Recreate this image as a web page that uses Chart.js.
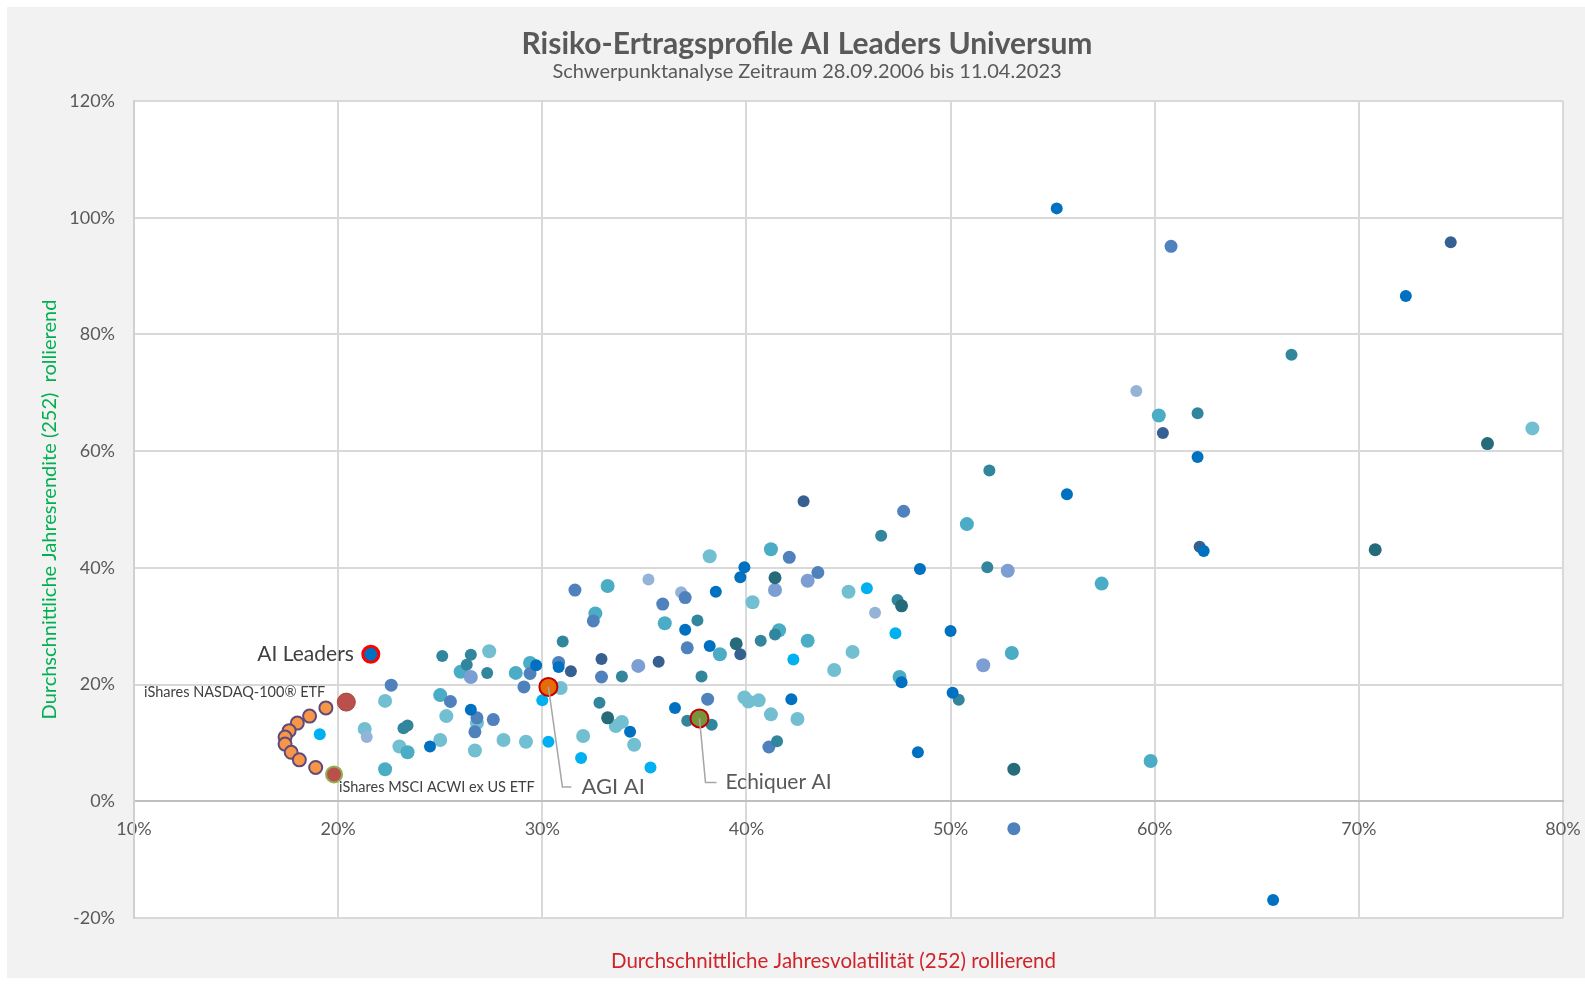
<!DOCTYPE html>
<html lang="de">
<head>
  <meta charset="UTF-8">
  <title>Risiko-Ertragsprofile AI Leaders Universum</title>
  <script src="https://cdn.jsdelivr.net/npm/chart.js"></script>
  <style>
    html, body {
      margin: 0;
      padding: 0;
      background: #fff;
    }

    .chart-box {
      position: absolute;
      left: 7px;
      top: 7px;
      width: 1578px;
      height: 971px;
      background: #f2f2f2;
    }
  </style>
</head>
<body>
  <div class="chart-box">
    <canvas id="scatter"></canvas>
  </div>
  <script>
    // Werte in Prozent: [Volatilität, Rendite]
    const blau = [[55.2, 101.6], [72.3, 86.6], [62.1, 59.0], [62.4, 42.9], [55.7, 52.6], [65.8, -16.9],
      [48.5, 39.8], [50.0, 29.2], [47.6, 20.4], [50.1, 18.6], [48.4, 8.4], [39.9, 40.1], [39.7, 38.4],
      [38.5, 35.9], [37.0, 29.4], [38.2, 26.6], [30.8, 23.0], [42.2, 17.5], [36.5, 16.0], [34.3, 11.9],
      [29.7, 23.3], [26.5, 15.7], [24.5, 9.4]];
    const stahlblau = [[60.8, 95.1], [53.1, -4.7], [47.7, 49.7], [42.1, 41.8], [43.5, 39.2], [31.6, 36.2],
      [37.0, 34.9], [35.9, 33.8], [32.5, 30.9], [37.1, 26.3], [30.8, 23.8], [32.9, 21.3], [38.1, 17.5],
      [41.1, 9.3], [29.4, 21.9], [29.1, 19.6], [22.6, 19.9], [25.5, 17.1], [26.8, 14.3], [27.6, 14.0],
      [26.7, 11.9]];
    const stahlblauHell = [[52.8, 39.5], [51.6, 23.3], [41.4, 36.2], [43.0, 37.8], [34.7, 23.2], [26.5, 21.3]];
    const hellblau = [[59.1, 70.3], [46.3, 32.3], [35.2, 38.0], [36.8, 35.8], [21.4, 11.0]];
    const marine = [[74.5, 95.8], [60.4, 63.1], [62.2, 43.6], [42.8, 51.4], [39.7, 25.2], [32.9, 24.4],
      [35.7, 23.9], [31.4, 22.3]];
    const petrol = [[66.7, 76.5], [62.1, 66.5], [51.9, 56.7], [46.6, 45.5], [51.8, 40.1], [47.4, 34.5],
      [50.4, 17.4], [37.6, 31.0], [41.4, 28.6], [40.7, 27.5], [31.0, 27.4], [33.9, 21.4], [37.8, 21.4],
      [32.8, 16.9], [37.1, 13.8], [38.3, 13.1], [41.5, 10.3], [25.1, 24.9], [26.5, 25.1], [26.3, 23.4],
      [27.3, 22.0], [23.4, 13.0], [23.2, 12.5]];
    const petrolDunkel = [[76.3, 61.3], [70.8, 43.1], [53.1, 5.5], [47.6, 33.5], [41.4, 38.3], [39.5, 27.0],
      [33.2, 14.3]];
    const tuerkis = [[60.2, 66.1], [57.4, 37.3], [59.8, 6.9], [50.8, 47.5], [53.0, 25.4], [47.5, 21.3],
      [41.2, 43.2], [33.2, 36.9], [32.6, 32.2], [36.0, 30.5], [41.6, 29.3], [43.0, 27.5], [38.7, 25.2],
      [26.0, 22.2], [28.7, 22.0], [29.4, 23.7], [25.0, 18.2], [23.4, 8.4], [22.3, 5.5]];
    const tuerkisHell = [[78.5, 63.9], [45.0, 35.9], [45.2, 25.6], [44.3, 22.5], [38.2, 42.0], [40.3, 34.1],
      [39.9, 17.8], [40.1, 17.1], [40.6, 17.3], [41.2, 14.9], [42.5, 14.1], [32.0, 11.2], [34.5, 9.7],
      [33.6, 12.9], [33.9, 13.6], [30.9, 19.4], [27.4, 25.7], [22.3, 17.2], [25.3, 14.6], [26.8, 13.4],
      [21.3, 12.4], [23.0, 9.4], [25.0, 10.5], [26.7, 8.7], [28.1, 10.5], [29.2, 10.2]];
    const himmelblau = [[45.9, 36.5], [47.3, 28.8], [42.3, 24.3], [31.9, 7.4], [35.3, 5.8], [30.0, 17.3],
      [19.1, 11.5], [30.3, 10.2]];

    // hervorgehobene Fonds / ETFs
    const aiLeaders = [21.6, 25.2];
    const agiAi = [30.3, 19.6];
    const echiquerAi = [37.7, 14.2];
    const nasdaqEtf = [20.4, 17.0];
    const msciAcwiEtf = [19.8, 4.6];
    const mischung = [[19.4, 16.0], [18.6, 14.6], [18.0, 13.4], [17.6, 12.1], [17.4, 11.0], [17.4, 9.8],
      [17.7, 8.4], [18.1, 7.1], [18.9, 5.8]];

    const xTicks = [10, 20, 30, 40, 50, 60, 70, 80];
    const yTicks = [-20, 0, 20, 40, 60, 80, 100, 120];

    const schrift = 'Lato, "DejaVu Sans", sans-serif';

    function punkte(arr) {
      return arr.map(([x, y]) => ({ x, y }));
    }

    function serie(label, arr, farbe, radius, extra) {
      return Object.assign({
        label: label,
        data: punkte(arr),
        backgroundColor: farbe,
        borderWidth: 0,
        pointRadius: radius,
        pointHoverRadius: radius
      }, extra || {});
    }

    // weißer Plotbereich
    const plotFlaeche = {
      id: 'plotFlaeche',
      beforeDraw(chart) {
        const { ctx, chartArea: a } = chart;
        ctx.save();
        ctx.fillStyle = '#ffffff';
        ctx.fillRect(a.left, a.top, a.right - a.left, a.bottom - a.top);
        ctx.restore();
      }
    };

    // Beschriftungen mit Führungslinien + Achsentitel
    const beschriftung = {
      id: 'beschriftung',
      afterDatasetsDraw(chart) {
        const { ctx, chartArea, scales: { x, y } } = chart;
        const px = p => [x.getPixelForValue(p[0]), y.getPixelForValue(p[1])];
        ctx.save();

        ctx.strokeStyle = '#a6a6a6';
        ctx.lineWidth = 1.5;
        let [ax, ay] = px(agiAi);
        ctx.beginPath();
        ctx.moveTo(ax, ay);
        ctx.lineTo(ax + 14, ay + 100);
        ctx.lineTo(ax + 23, ay + 100);
        ctx.stroke();
        let [ex, ey] = px(echiquerAi);
        ctx.beginPath();
        ctx.moveTo(ex, ey);
        ctx.lineTo(ex + 6, ey + 64);
        ctx.lineTo(ex + 17, ey + 64);
        ctx.stroke();

        ctx.textBaseline = 'middle';
        ctx.fillStyle = '#595959';
        ctx.font = '22px ' + schrift;
        ctx.textAlign = 'left';
        ctx.fillText('AGI AI', ax + 33, ay + 100);
        ctx.font = '21px ' + schrift;
        ctx.fillText('Echiquer AI', ex + 26, ey + 64);

        ctx.fillStyle = '#404040';
        let [lx, ly] = px(aiLeaders);
        ctx.textAlign = 'right';
        ctx.fillText('AI Leaders', lx - 17, ly);

        ctx.font = '14.5px ' + schrift;
        let [nx, ny] = px(nasdaqEtf);
        ctx.fillText('iShares NASDAQ-100® ETF', nx - 21, ny - 10);
        let [mx, my] = px(msciAcwiEtf);
        ctx.textAlign = 'left';
        ctx.fillText('iShares MSCI ACWI ex US ETF', mx + 5, my + 13);

        // x-Achsentitel
        ctx.fillStyle = '#d0232a';
        ctx.font = '20.5px ' + schrift;
        ctx.textAlign = 'center';
        ctx.fillText('Durchschnittliche Jahresvolatilität (252) rollierend',
          (chartArea.left + chartArea.right) / 2 - 15, chartArea.bottom + 43);

        // y-Achsentitel
        ctx.font = '20px ' + schrift;
        ctx.translate(43, (chartArea.top + chartArea.bottom) / 2);
        ctx.rotate(-Math.PI / 2);
        ctx.fillStyle = '#00b050';
        ctx.fillText('Durchschnittliche Jahresrendite (252)  rollierend', 0, 0);
        ctx.restore();
      }
    };

    new Chart(document.getElementById('scatter'), {
      type: 'scatter',
      data: {
        datasets: [
          serie('AI Leaders', [aiLeaders], '#0070c0', 8, { borderWidth: 3, borderColor: '#ff0000' }),
          serie('AGI AI', [agiAi], '#e46c0a', 9, { borderWidth: 2, borderColor: '#c00000' }),
          serie('Echiquer AI', [echiquerAi], '#77933c', 9, { borderWidth: 2, borderColor: '#c00000' }),
          serie('iShares NASDAQ-100® ETF', [nasdaqEtf], '#b9504b', 9, { borderWidth: 1, borderColor: '#a5433f' }),
          serie('iShares MSCI ACWI ex US ETF', [msciAcwiEtf], '#b9504b', 8, { borderWidth: 2, borderColor: '#8fb24f' }),
          serie('Mischung', mischung, '#f79646', 6.5, { borderWidth: 2, borderColor: '#604a7b' }),
          serie('blau', blau, '#0070c0', 6),
          serie('marine', marine, '#376092', 6),
          serie('himmelblau', himmelblau, '#00b0f0', 6),
          serie('petrolDunkel', petrolDunkel, '#266b7a', 6.5),
          serie('petrol', petrol, '#31859c', 6),
          serie('stahlblau', stahlblau, '#4f81bd', 6.5),
          serie('stahlblauHell', stahlblauHell, '#7c9ed3', 7),
          serie('hellblau', hellblau, '#95b3d7', 6),
          serie('tuerkis', tuerkis, '#4bacc6', 7),
          serie('tuerkisHell', tuerkisHell, '#72bfd2', 7)
        ]
      },
      options: {
        responsive: true,
        maintainAspectRatio: false,
        animation: false,
        layout: { padding: { top: 0, right: 22, bottom: 60, left: 44 } },
        plugins: {
          legend: { display: false },
          tooltip: { enabled: false },
          title: {
            display: true,
            text: 'Risiko-Ertragsprofile AI Leaders Universum',
            color: '#595959',
            font: { family: schrift, size: 30, weight: 'bold', lineHeight: 1.1 },
            padding: { top: 21, bottom: 0 }
          },
          subtitle: {
            display: true,
            text: 'Schwerpunktanalyse Zeitraum 28.09.2006 bis 11.04.2023',
            color: '#595959',
            font: { family: schrift, size: 20, lineHeight: 1.1 },
            padding: { top: 0, bottom: 18 }
          }
        },
        scales: {
          x: {
            type: 'linear',
            min: xTicks[0],
            max: xTicks[xTicks.length - 1],
            position: { y: 0 },
            afterBuildTicks: s => { s.ticks = xTicks.map(v => ({ value: v })); },
            ticks: {
              callback: v => v + '%',
              color: '#595959',
              font: { family: schrift, size: 18 },
              padding: 17,
              maxRotation: 0,
              autoSkip: false
            },
            grid: { color: '#d9d9d9', lineWidth: 2, drawTicks: false },
            border: { color: '#bfbfbf', width: 2 },
            afterFit(s) { s.height = 0; s.paddingLeft = 0; s.paddingRight = 0; }
          },
          y: {
            min: yTicks[0],
            max: yTicks[yTicks.length - 1],
            afterBuildTicks: s => { s.ticks = yTicks.map(v => ({ value: v })); },
            ticks: {
              callback: v => v + '%',
              color: '#595959',
              font: { family: schrift, size: 18 },
              padding: 19
            },
            grid: { color: '#d9d9d9', lineWidth: 2, drawTicks: false },
            border: { color: '#d0d0d0', width: 2 },
            afterFit(s) { s.width = 83; s.paddingTop = 0; s.paddingBottom = 0; }
          }
        }
      },
      plugins: [plotFlaeche, beschriftung]
    });
  </script>
</body>
</html>
